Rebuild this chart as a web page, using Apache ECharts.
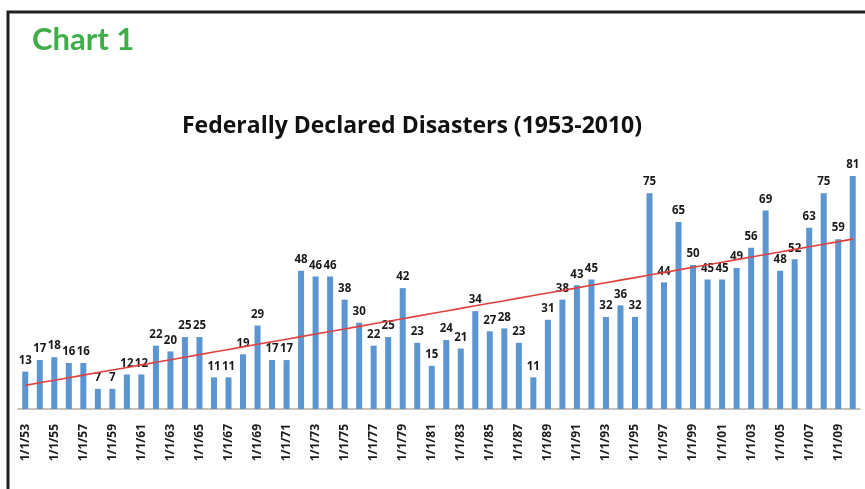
<!DOCTYPE html>
<html>
<head>
<meta charset="utf-8">
<script src="https://cdn.jsdelivr.net/npm/echarts@6/dist/echarts.min.js"></script>
<style>
  html, body { margin: 0; padding: 0; background: #ffffff; }
  #chart { width: 865px; height: 489px; }
</style>
</head>
<body>
<div id="chart"></div>
<script>
// Federally declared disasters per year, 1953-2010
const categories = [
  '1/1/53','1/1/54','1/1/55','1/1/56','1/1/57','1/1/58','1/1/59','1/1/60','1/1/61','1/1/62',
  '1/1/63','1/1/64','1/1/65','1/1/66','1/1/67','1/1/68','1/1/69','1/1/70','1/1/71','1/1/72',
  '1/1/73','1/1/74','1/1/75','1/1/76','1/1/77','1/1/78','1/1/79','1/1/80','1/1/81','1/1/82',
  '1/1/83','1/1/84','1/1/85','1/1/86','1/1/87','1/1/88','1/1/89','1/1/90','1/1/91','1/1/92',
  '1/1/93','1/1/94','1/1/95','1/1/96','1/1/97','1/1/98','1/1/99','1/1/00','1/1/01','1/1/02',
  '1/1/03','1/1/04','1/1/05','1/1/06','1/1/07','1/1/08','1/1/09','1/1/10'
];
const disasters = [
  13, 17, 18, 16, 16, 7, 7, 12, 12, 22,
  20, 25, 25, 11, 11, 19, 29, 17, 17, 48,
  46, 46, 38, 30, 22, 25, 42, 23, 15, 24,
  21, 34, 27, 28, 23, 11, 31, 38, 43, 45,
  32, 36, 32, 75, 44, 65, 50, 45, 45, 49,
  56, 69, 48, 52, 63, 75, 59, 81
];

// Least-squares linear trend over the yearly counts
function linearTrend(values) {
  const n = values.length;
  let sx = 0, sy = 0, sxx = 0, sxy = 0;
  values.forEach((y, x) => { sx += x; sy += y; sxx += x * x; sxy += x * y; });
  const slope = (n * sxy - sx * sy) / (n * sxx - sx * sx);
  const intercept = (sy - slope * sx) / n;
  return values.map((_, x) => +(intercept + slope * x).toFixed(3));
}
const trend = linearTrend(disasters);

const chart = echarts.init(document.getElementById('chart'), null, { renderer: 'canvas' });
chart.setOption({
  animation: false,
  backgroundColor: '#ffffff',
  graphic: [
    {
      type: 'rect',
      shape: { x: 8, y: 12, width: 900, height: 500 },
      style: { fill: 'none', stroke: '#231f20', lineWidth: 3 },
      silent: true
    },
    {
      type: 'text',
      left: 32, top: 24,
      style: {
        text: 'Chart 1',
        fill: '#3fae49',
        font: 'bold 31px Lato, "Open Sans", sans-serif'
      }
    }
  ],
  title: {
    text: 'Federally Declared Disasters (1953-2010)',
    left: 407,
    textAlign: 'center',
    top: 110,
    textStyle: {
      fontFamily: '"Open Sans", sans-serif',
      fontWeight: 'bold',
      fontSize: 23,
      color: '#111111'
    }
  },
  grid: { left: 18, right: 5, top: 150, bottom: 80 },
  xAxis: {
    type: 'category',
    data: categories,
    boundaryGap: true,
    axisTick: { show: false },
    axisLine: { lineStyle: { color: '#b8aca0', width: 1.5 } },
    axisLabel: {
      interval: 1,
      rotate: 90,
      margin: 15,
      fontFamily: '"Open Sans", sans-serif',
      fontWeight: 'bold',
      fontSize: 12,
      color: '#1a1a1a'
    }
  },
  yAxis: {
    type: 'value',
    min: 0,
    max: 90,
    show: false,
    splitLine: { show: false }
  },
  series: [
    {
      type: 'bar',
      data: disasters,
      barWidth: 6,
      itemStyle: { color: '#5b95d2' },
      label: {
        show: true,
        position: 'top',
        distance: 5,
        fontFamily: '"Open Sans", sans-serif',
        fontWeight: 'bold',
        fontSize: 11.5,
        color: '#1a1a1a'
      },
      z: 2
    },
    {
      type: 'line',
      data: trend,
      symbol: 'none',
      smooth: false,
      lineStyle: { color: '#e2403d', width: 1.6 },
      z: 3,
      silent: true
    }
  ]
});
</script>
</body>
</html>
